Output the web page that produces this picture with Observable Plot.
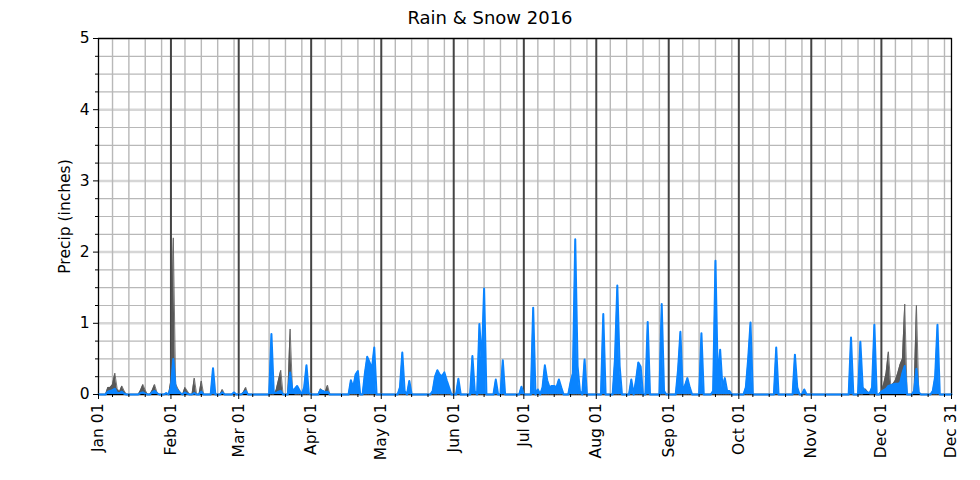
<!DOCTYPE html>
<html><head><meta charset="utf-8">
<script src="https://cdn.jsdelivr.net/npm/d3@7"></script>
<script src="https://cdn.jsdelivr.net/npm/@observablehq/plot@0.6"></script>
<style>
body{margin:0;background:#fff;font-family:"DejaVu Sans",sans-serif}
#title{width:980px;height:28px;text-align:center;font-size:18px;line-height:28px;padding-top:4px;box-sizing:border-box;color:#000}
</style></head><body>
<div id="title">Rain &amp; Snow 2016</div>
<div id="chart"></div>
<script>
// Days with precipitation (MM-DD, 2016); all other days are 0
const wetDates = [
 "01-05","01-06","01-07","01-08","01-09","01-10","01-11","01-12","01-19","01-20","01-21","01-24","01-25","01-26","01-30",
 "02-01","02-02","02-03","02-04","02-05","02-07","02-08","02-11","02-14","02-19","02-23","02-28",
 "03-03","03-04","03-15","03-16","03-17","03-18","03-19","03-23","03-24","03-25","03-26","03-27","03-29","03-30","03-31",
 "04-05","04-06","04-07","04-08","04-18","04-19","04-20","04-21","04-24","04-25","04-26","04-27","04-28",
 "05-09","05-10","05-11","05-13","05-23","05-24","05-25","05-26","05-27","05-28","05-29","05-30",
 "06-03","06-09","06-10","06-12","06-13","06-14","06-19","06-22","06-30",
 "07-05","07-07","07-09","07-10","07-11","07-12","07-13","07-14","07-15","07-16","07-17","07-21","07-22","07-23","07-24","07-25","07-27",
 "08-04","08-09","08-10","08-11","08-16","08-18","08-19","08-20","08-23","08-29","08-30",
 "09-05","09-06","09-07","09-08","09-09","09-10","09-15","09-20","09-21","09-22","09-23","09-24","09-25","09-26","09-27",
 "10-04","10-05","10-06","10-17","10-25","10-26","10-29",
 "11-18","11-22","11-23","11-24","11-25","11-26","11-27","11-28",
 "12-01","12-02","12-03","12-04","12-05","12-06","12-07","12-08","12-09","12-10","12-11","12-15","12-16","12-17","12-23","12-24","12-25"
];
const rainIn = [
 0.04,0.05,0.06,0.08,0.02,0.02,0.04,0.01,0.02,0.03,0.01,0.03,0.05,0.02,0.02,
 0.10,0.50,0.10,0.05,0.02,0.03,0.01,0.02,0.04,0.37,0.03,0.03,
 0.02,0.05,0.85,0.03,0.02,0.04,0.05,0.31,0.05,0.08,0.12,0.06,0.10,0.41,0.02,
 0.06,0.05,0.03,0.04,0.20,0.10,0.28,0.33,0.30,0.53,0.45,0.36,0.66,
 0.10,0.59,0.05,0.19,0.05,0.25,0.34,0.28,0.26,0.31,0.20,0.10,
 0.22,0.54,0.05,0.99,0.45,1.49,0.21,0.48,0.11,
 1.22,0.07,0.10,0.41,0.20,0.10,0.12,0.12,0.10,0.21,0.10,0.17,0.30,2.18,0.40,0.05,0.49,
 1.13,0.50,1.53,0.40,0.21,0.20,0.45,0.39,1.02,1.27,0.05,
 0.35,0.88,0.05,0.13,0.23,0.10,0.86,0.05,1.88,0.20,0.63,0.10,0.23,0.05,0.05,
 0.10,0.50,1.01,0.66,0.56,0.10,0.07,
 0.80,0.74,0.10,0.05,0.03,0.02,0.10,0.98,
 0.04,0.06,0.08,0.12,0.13,0.14,0.15,0.15,0.16,0.30,0.40,0.05,0.36,0.03,0.05,0.25,0.98
];
const snowIn = [
 0.10,0.10,0.14,0.30,0.08,0.04,0.12,0.05,0.06,0.14,0.06,0.06,0.14,0.03,0,
 0.20,2.20,0.15,0.08,0.03,0.10,0.05,0.23,0.19,0,0.07,0,
 0.03,0.10,0,0,0.06,0.20,0.34,0.92,0.05,0,0,0,0,0,0,
 0.08,0.05,0.03,0.13,0,0,0,0,0,0,0,0,0,
 0,0,0,0,0,0,0,0,0,0,0,0,
 0,0,0,0,0,0,0,0,0,
 0,0,0,0,0,0,0,0,0,0,0,0,0,0,0,0,0,
 0,0,0,0,0,0,0,0,0,0,0,
 0,0,0,0,0,0,0,0,0,0,0,0,0,0,0,
 0,0,0,0,0,0,0,
 0,0,0,0.08,0.05,0,0,0,
 0.05,0.15,0.30,0.60,0.13,0.15,0.20,0.30,0.42,0.50,1.27,0.05,1.25,0.03,0,0,0
];
const yMajor = [0, 1, 2, 3, 4, 5];
const yMinor = [0.25,0.5,0.75,1.25,1.5,1.75,2.25,2.5,2.75,3.25,3.5,3.75,4.25,4.5,4.75];
const monthStarts = ["01-01","02-01","03-01","04-01","05-01","06-01","07-01","08-01","09-01","10-01","11-01","12-01"];
const lastTick = "12-31";
const weekDays = ["07","14","21","28"];
const yLabel = "Precip (inches)";

const parse = s => new Date("2016-" + s + "T00:00:00Z");
const rainMap = new Map(wetDates.map((d, i) => [d, rainIn[i]]));
const snowMap = new Map(wetDates.map((d, i) => [d, snowIn[i]]));
const fmtKey = d3.utcFormat("%m-%d");
const start = parse("01-01"), end = parse(lastTick);
const table = d3.utcDay.range(start, d3.utcDay.offset(end, 1)).map(d => {
  const k = fmtKey(d);
  return {date: d, rain: rainMap.get(k) ?? 0, snow: snowMap.get(k) ?? 0};
});
const monthDates = monthStarts.map(parse);
const xMajor = [...monthDates, end];
const weekTicks = monthStarts.flatMap(m => weekDays.map(w => parse(m.slice(0, 2) + "-" + w)));

const BLUE = "#0a84ff", GRAY = "#585858";
const chart = Plot.plot({
  width: 980, height: 452,
  marginTop: 10, marginLeft: 98, marginRight: 29, marginBottom: 86,
  style: {fontFamily: "DejaVu Sans", fontSize: "15.5px", color: "#000", background: "#fff"},
  x: {type: "utc", domain: [start, end]},
  y: {domain: [0, 5]},
  marks: [
    Plot.gridY(yMinor, {stroke: "#b8b8b8", strokeOpacity: 1, strokeWidth: 1.2}),
    Plot.gridY(yMajor, {stroke: "#d6d6d6", strokeOpacity: 1, strokeWidth: 2.5}),
    Plot.gridX(weekTicks, {stroke: "#b8b8b8", strokeOpacity: 1, strokeWidth: 1.4}),
    Plot.gridX(monthDates.slice(1), {stroke: "#444", strokeOpacity: 1, strokeWidth: 2}),
    Plot.frame({stroke: "#000", strokeWidth: 1.3}),
    Plot.areaY(table, {x: "date", y: "snow", fill: GRAY, fillOpacity: 1}),
    Plot.lineY(table, {x: "date", y: "snow", stroke: GRAY, strokeWidth: 0.8}),
    Plot.areaY(table, {x: "date", y: "rain", fill: BLUE, fillOpacity: 1}),
    Plot.lineY(table, {x: "date", y: "rain", stroke: BLUE, strokeWidth: 2}),
    Plot.axisY(yMajor, {tickSize: 5, tickPadding: 4, tickFormat: d => String(d), label: null}),
    Plot.axisY(yMinor, {tickSize: 3, tickFormat: () => "", label: null}),
    Plot.text([yLabel], {text: d => d, frameAnchor: "left", textAnchor: "middle", rotate: -90, dx: -33, fontSize: 15.5}),
    Plot.axisX(xMajor, {tickSize: 5, tickPadding: 4, tickRotate: -90, tickFormat: d3.utcFormat("%b %d"), label: null}),
    Plot.axisX(weekTicks, {tickSize: 3, tickFormat: () => "", label: null})
  ]
});
document.getElementById("chart").appendChild(chart);
</script>
</body></html>
